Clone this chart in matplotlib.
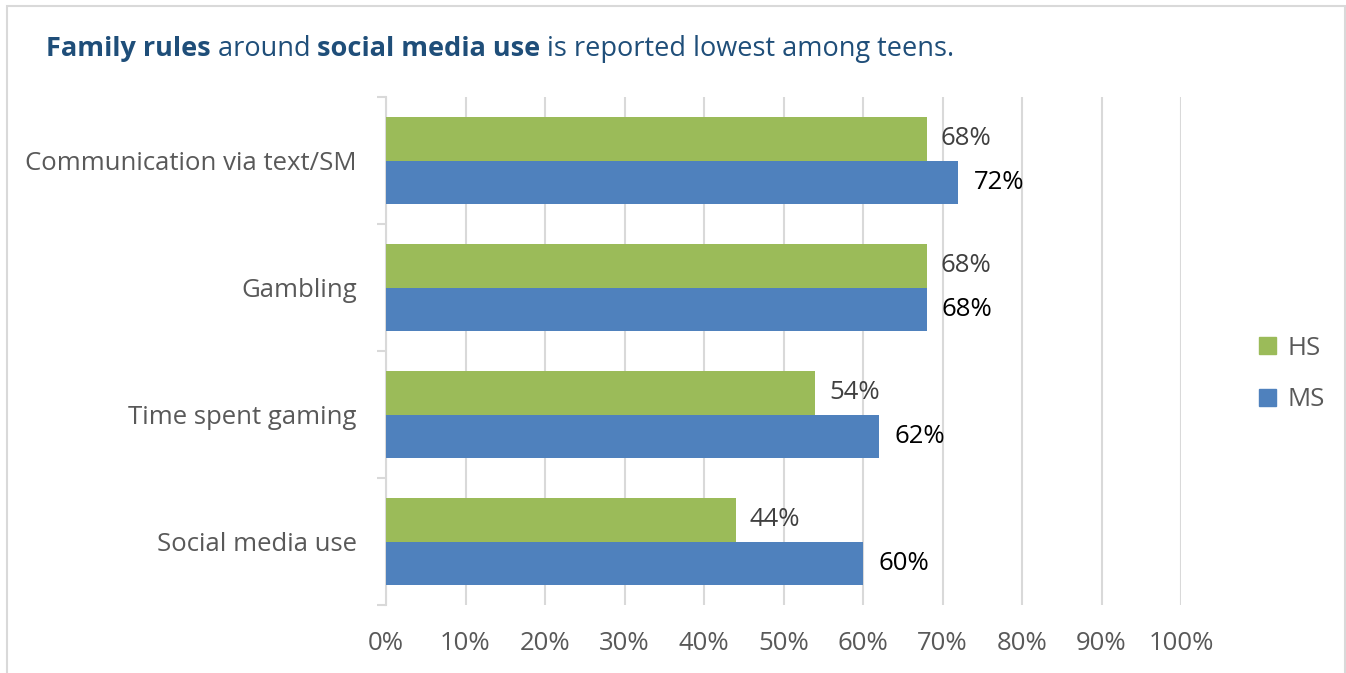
import matplotlib
matplotlib.use("Agg")
import matplotlib.pyplot as plt
from matplotlib.patches import Rectangle, Patch
import numpy as np

categories = ["Social media use", "Time spent gaming", "Gambling", "Communication via text/SM"]
hs_values = [44, 54, 68, 68]
ms_values = [60, 62, 68, 72]
series_names = ["HS", "MS"]
x_ticks = [0, 10, 20, 30, 40, 50, 60, 70, 80, 90, 100]

GREEN = "#9BBB59"
BLUE = "#4F81BD"
GRID = "#D9D9D9"
TICK_TXT = "#595959"
TITLE = "#1F4E79"
FONT = "Open Sans"
FS = 18.5

plt.rcParams["font.family"] = [FONT, "DejaVu Sans"]

W, H = 1346, 673
fig = plt.figure(figsize=(W / 100, H / 100), dpi=100)

# light frame around the chart area
fig.patches.append(Rectangle((7 / W, -0.01), (1345 - 7) / W, 1 - 6 / H + 0.01,
                             transform=fig.transFigure, fill=False,
                             edgecolor=GRID, linewidth=1.5))

ax = fig.add_axes([386 / W, 1 - 605 / H, (1181 - 386) / W, (605 - 97) / H])

y = np.arange(len(categories))
h = 0.34
ax.barh(y + h / 2, hs_values, height=h, color=GREEN, zorder=3, label=series_names[0])
ax.barh(y - h / 2, ms_values, height=h, color=BLUE, zorder=3, label=series_names[1])

for yi, v in zip(y, hs_values):
    ax.annotate(f"{v}%", (v, yi + h / 2), xytext=(10, 0), textcoords="offset points",
                va="center", ha="left", fontsize=FS, color="#404040")
for yi, v in zip(y, ms_values):
    ax.annotate(f"{v}%", (v, yi - h / 2), xytext=(11, 0), textcoords="offset points",
                va="center", ha="left", fontsize=FS, color="black")

ax.set_xlim(0, 100)
ax.set_ylim(-0.5, len(categories) - 0.5)
ax.set_xticks(x_ticks)
ax.set_xticklabels([f"{t}%" for t in x_ticks], fontsize=FS, color=TICK_TXT)
ax.tick_params(axis="x", length=0, pad=19)
ax.set_yticks(y)
ax.set_yticklabels(categories, fontsize=FS, color=TICK_TXT)
ax.tick_params(axis="y", which="major", length=0, pad=21)
ax.set_yticks(np.arange(-0.5, len(categories)), minor=True)
ax.tick_params(axis="y", which="minor", length=6.5, width=1.5, color=GRID)

ax.grid(axis="x", color=GRID, linewidth=1.5, zorder=0)
for s in ["top", "right", "bottom"]:
    ax.spines[s].set_visible(False)
ax.spines["left"].set_color(GRID)
ax.spines["left"].set_linewidth(1.5)

handles = [Patch(color=GREEN, label="HS"), Patch(color=BLUE, label="MS")]
fig.legend(handles=handles, loc="center left", bbox_to_anchor=(1236 / W, 1 - 374 / H),
           frameon=False, fontsize=FS, labelcolor=TICK_TXT, handlelength=0.65,
           handleheight=0.65, handletextpad=0.45, labelspacing=1.05)

# title with bold key phrases, laid out piece by piece
pieces = [("Family rules", "bold"), (" around ", "normal"),
          ("social media use", "bold"), (" is reported lowest among teens.", "normal")]
TITLE_FS = 19.5
base_y = 1 - 56 / H
fig.canvas.draw()
r = fig.canvas.get_renderer()
cur_x = 46
for txt, wt in pieces:
    t = fig.text(cur_x / W, base_y, txt, fontsize=TITLE_FS, color=TITLE,
                 fontweight=wt, ha="left", va="baseline")
    cur_x = t.get_window_extent(r).x1

fig.savefig("out.png", dpi=100)
